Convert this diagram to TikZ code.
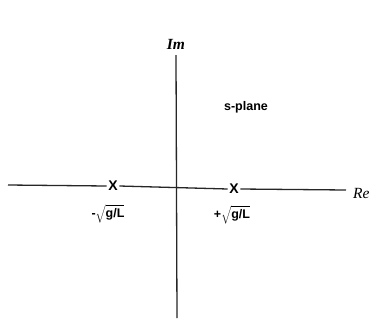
\documentclass[tikz,border=0pt]{standalone}
\usepackage{fontspec}
\setmainfont{Liberation Serif}
\setsansfont{Liberation Sans}
\begin{document}
\begin{tikzpicture}[x=1pt,y=-1pt,
  axis/.style={line width=1.3pt,draw=black!85},
  pole/.style={font=\sffamily\bfseries\fontsize{14}{14}\selectfont,inner sep=1.5pt},
  lbl/.style={font=\sffamily\bfseries\fontsize{12.5}{13}\selectfont,inner sep=0pt},
  axlbl/.style={font=\itshape\fontsize{15.5}{16}\selectfont,inner sep=0pt}]
\useasboundingbox[fill=white] (0,0) rectangle (384,325);
\coordinate (L) at (8,185);
\coordinate (R) at (346,190);
\coordinate (T) at (176,55);
\coordinate (B) at (177,318);
\node[pole] (p1) at (113,186) {X};
\node[pole] (p2) at (234,189) {X};
\draw[axis] (L) -- (p1.west);
\draw[axis] (p1.east) -- (p2.west);
\draw[axis] (p2.east) -- (R);
\draw[axis] (T) -- (B);
\node[axlbl] (im) at (176,44) {\textbf{Im}};
\node[axlbl,anchor=west] (re) at (353,193) {Re};
\node[lbl] (sp) at (246,107) {s-plane};
\node[lbl] (m1) at (108,214) {-$\sqrt{\mbox{g/L}}$};
\node[lbl] (m2) at (232,215) {+$\sqrt{\mbox{g/L}}$};
\end{tikzpicture}
\end{document}
